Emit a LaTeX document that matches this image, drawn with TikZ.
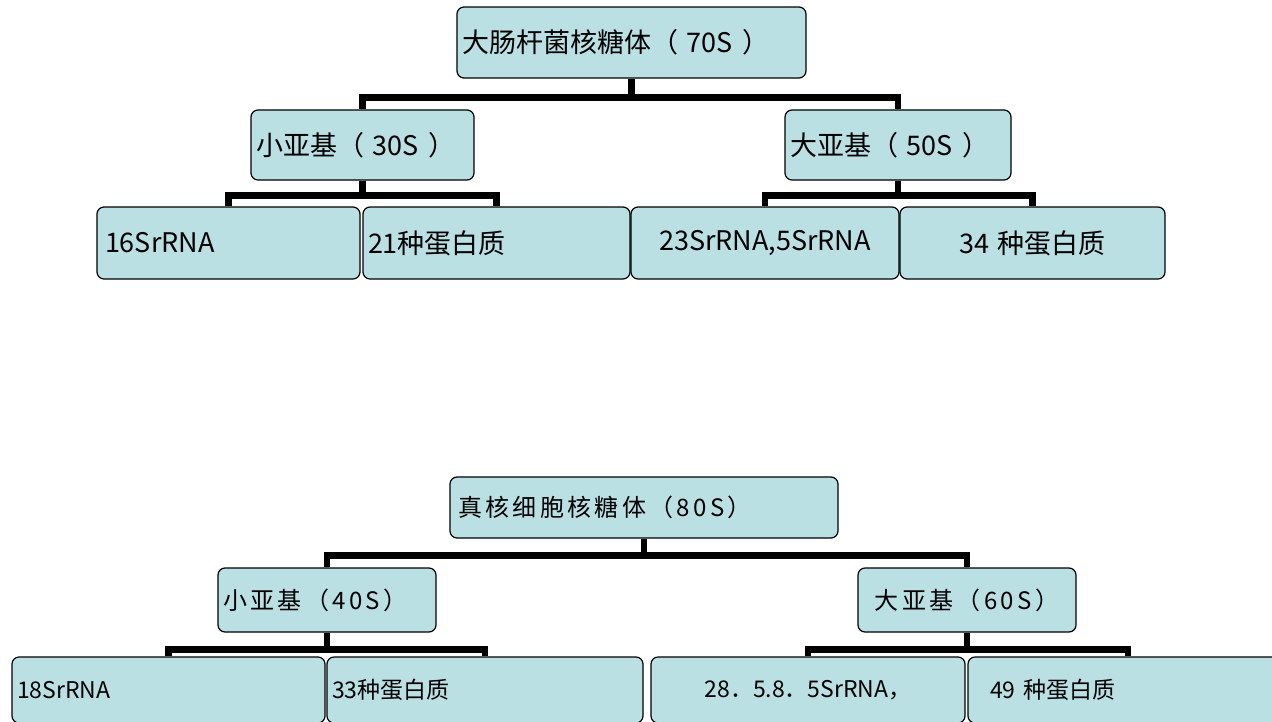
\documentclass[tikz,border=0pt]{standalone}
\usepackage{fontspec}
\newfontfamily\cjk{Noto Sans CJK SC}
\newfontfamily\cjksp[LetterSpace=14]{Noto Sans CJK SC}
\definecolor{boxfill}{RGB}{186,224,228}
\tikzset{
  box/.style={draw=black, fill=boxfill, line width=1.2pt, rounded corners=7pt, inner xsep=5pt, inner ysep=0pt, font=\cjk\fontsize{27}{30}\selectfont},
  boxb/.style={box, font=\cjk\fontsize{23}{26}\selectfont},
  boxs/.style={box, font=\cjksp\fontsize{24}{26}\selectfont},
  conn/.style={draw=black, line width=6.5pt, line join=miter, line cap=butt},
}
\begin{document}
\begin{tikzpicture}[x=1pt,y=-1pt]
\useasboundingbox (0,0) rectangle (1272,721);
\clip (0,0) rectangle (1272,721);
% ---- top tree ----
\node[box, minimum width=349pt, minimum height=71pt, text width=339pt, align=left] (r1) at (631.5,42.5) {大肠杆菌核糖体（ 70S ）};
\node[box, minimum width=223pt, minimum height=70pt, text width=213pt, align=left] (a1) at (362.5,145) {小亚基（ 30S ）};
\node[box, minimum width=226pt, minimum height=70pt, text width=216pt, align=left] (b1) at (898,145) {大亚基（ 50S ）};
\node[box, minimum width=263pt, minimum height=72pt, text width=253pt, align=left] (l1) at (228.5,243) {\hspace*{3pt}16SrRNA};
\node[box, minimum width=267pt, minimum height=72pt, text width=257pt, align=left] (l2) at (496.5,243) {21种蛋白质};
\node[box, minimum width=264pt, minimum height=72pt, text width=258pt, align=center] (l3) at (765,243) {23SrRNA,5SrRNA};
\node[box, minimum width=265pt, minimum height=72pt, text width=255pt, align=center] (l4) at (1032.5,243) {34 种蛋白质};
\draw[conn] (r1.south) -- ++(0,19) -| (a1.north);
\draw[conn] (r1.south) -- ++(0,19) -| (b1.north);
\draw[conn] (a1.south) -- ++(0,15) -| (l1.north);
\draw[conn] (a1.south) -- ++(0,15) -| (l2.north);
\draw[conn] (b1.south) -- ++(0,15) -| (l3.north);
\draw[conn] (b1.south) -- ++(0,15) -| (l4.north);
% ---- bottom tree ----
\node[boxs, minimum width=388pt, minimum height=61pt, text width=378pt, align=left] (r2) at (644,507.5) {\hspace*{3pt}真核细胞核糖体（80S）};
\node[boxs, minimum width=218pt, minimum height=64pt, text width=208pt, align=left] (a2) at (327,600) {小亚基（40S）};
\node[boxs, minimum width=218pt, minimum height=64pt, text width=208pt, align=center] (b2) at (967,600) {大亚基（60S）};
\node[boxb, minimum width=313pt, minimum height=66pt, text width=303pt, align=left] (m1) at (168.5,690) {18SrRNA};
\node[boxb, minimum width=316pt, minimum height=66pt, text width=306pt, align=left] (m2) at (485,690) {33种蛋白质};
\node[boxb, minimum width=314pt, minimum height=66pt, text width=304pt, align=center] (m3) at (808,690) {28．5.8．5SrRNA，};
\node[boxb, minimum width=320pt, minimum height=66pt, text width=310pt, align=left] (m4) at (1128,690) {\hspace*{17pt}49 种蛋白质};
\draw[conn] (r2.south) -- ++(0,17) -| (a2.north);
\draw[conn] (r2.south) -- ++(0,17) -| (b2.north);
\draw[conn] (a2.south) -- ++(0,17) -| (m1.north);
\draw[conn] (a2.south) -- ++(0,17) -| (m2.north);
\draw[conn] (b2.south) -- ++(0,17) -| (m3.north);
\draw[conn] (b2.south) -- ++(0,17) -| (m4.north);
\end{tikzpicture}
\end{document}
